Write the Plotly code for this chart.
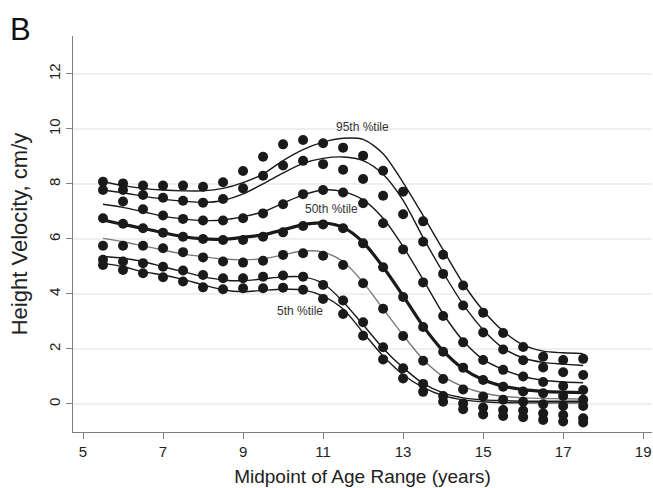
import plotly.graph_objects as go

# Age midpoints (years)
ages = [5.5, 6.0, 6.5, 7.0, 7.5, 8.0, 8.5, 9.0, 9.5, 10.0, 10.5, 11.0, 11.5,
        12.0, 12.5, 13.0, 13.5, 14.0, 14.5, 15.0, 15.5, 16.0, 16.5, 17.0, 17.5]

# Observed percentile points (cm/y)
obs_p95 = [8.08, 8.02, 7.94, 7.94, 7.94, 7.90, 8.06, 8.47, 8.99, 9.44, 9.60, 9.48, 9.32,
           9.03, 8.48, 7.72, 6.64, 5.43, 4.31, 3.32, 2.58, 2.07, 1.72, 1.60, 1.64]
obs_p90 = [7.78, 7.78, 7.60, 7.50, 7.39, 7.32, 7.45, 7.84, 8.30, 8.67, 8.84, 8.72, 8.52,
           8.18, 7.57, 6.90, 5.90, 4.73, 3.58, 2.60, 1.98, 1.59, 1.33, 1.15, 1.05]
obs_p75 = [None, 7.36, 7.08, 6.85, 6.73, 6.67, 6.67, 6.75, 6.93, 7.26, 7.63, 7.78, 7.69,
           7.30, 6.57, 5.62, 4.42, 3.20, 2.24, 1.60, 1.24, 1.00, 0.80, 0.65, 0.51]
obs_p50 = [6.75, 6.55, 6.39, 6.23, 6.08, 6.00, 5.96, 5.96, 6.08, 6.24, 6.47, 6.53, 6.39,
           5.84, 4.97, 3.89, 2.80, 1.90, 1.32, 0.87, 0.63, 0.45, 0.39, 0.29, 0.15]
obs_p25 = [5.75, 5.75, 5.75, 5.66, 5.52, 5.33, 5.18, 5.14, 5.21, 5.42, 5.48, 5.39, 5.05,
           4.39, 3.46, 2.47, 1.57, 0.91, 0.53, 0.27, 0.15, 0.08, -0.01, -0.07, -0.07]
obs_p10 = [5.24, 5.18, 5.12, 4.99, 4.85, 4.69, 4.57, 4.57, 4.63, 4.67, 4.63, 4.33, 3.76,
           2.97, 2.06, 1.30, 0.73, 0.29, 0.02, -0.13, -0.22, -0.24, -0.34, -0.40, -0.52]
obs_p5 = [5.05, 4.87, 4.75, 4.61, 4.45, 4.24, 4.17, 4.21, 4.21, 4.23, 4.15, 3.82, 3.27,
          2.48, 1.62, 0.93, 0.44, 0.08, -0.19, -0.38, -0.44, -0.48, -0.58, -0.64, -0.67]

# Smoothed percentile curves (cm/y)
fit_p95 = [8.08, 7.94, 7.84, 7.78, 7.75, 7.75, 7.84, 8.05, 8.36, 8.85, 9.25, 9.52, 9.66,
           9.62, 9.10, 8.05, 6.85, 5.60, 4.38, 3.40, 2.65, 2.15, 1.92, 1.86, 1.83]
fit_p90 = [7.78, 7.68, 7.56, 7.45, 7.38, 7.33, 7.40, 7.64, 8.00, 8.40, 8.75, 8.93, 8.98,
           8.85, 8.35, 7.40, 6.05, 4.78, 3.62, 2.70, 2.03, 1.67, 1.51, 1.45, 1.40]
fit_p75 = [7.26, 7.15, 6.99, 6.83, 6.73, 6.67, 6.69, 6.81, 6.99, 7.30, 7.60, 7.78, 7.72,
           7.42, 6.75, 5.72, 4.52, 3.28, 2.30, 1.62, 1.25, 1.00, 0.86, 0.80, 0.77]
fit_p50 = [6.69, 6.53, 6.39, 6.23, 6.08, 6.00, 5.99, 6.06, 6.15, 6.33, 6.52, 6.58, 6.42,
           5.88, 4.98, 3.93, 2.83, 1.93, 1.28, 0.88, 0.65, 0.52, 0.46, 0.43, 0.41]
fit_p25 = [6.02, 5.90, 5.75, 5.60, 5.45, 5.36, 5.27, 5.24, 5.28, 5.42, 5.56, 5.52, 5.18,
           4.42, 3.46, 2.50, 1.62, 1.00, 0.63, 0.40, 0.28, 0.22, 0.20, 0.19, 0.18]
fit_p10 = [5.36, 5.30, 5.18, 4.99, 4.81, 4.63, 4.51, 4.48, 4.55, 4.62, 4.62, 4.38, 3.72,
           2.88, 2.02, 1.32, 0.75, 0.40, 0.22, 0.15, 0.12, 0.10, 0.10, 0.10, 0.10]
fit_p5 = [5.12, 4.99, 4.81, 4.69, 4.53, 4.33, 4.15, 4.08, 4.13, 4.17, 4.15, 3.92, 3.45,
          2.60, 1.74, 1.06, 0.60, 0.30, 0.15, 0.08, 0.05, 0.04, 0.04, 0.04, 0.04]

x_ticks = [5, 7, 9, 11, 13, 15, 17, 19]
y_ticks = [0, 2, 4, 6, 8, 10, 12]

curve_labels = ["95th %tile", "50th %tile", "5th %tile"]
label_x = [11.98, 11.2, 10.43]
label_y = [10.07, 7.09, 3.38]

FONT = "Liberation Sans, Arial, Helvetica, sans-serif"
BLACK = "#1a1a1a"

fig = go.Figure()

fits = [
    (fit_p95, BLACK, 1.4),
    (fit_p90, BLACK, 1.4),
    (fit_p75, BLACK, 1.4),
    (fit_p50, BLACK, 3.2),
    (fit_p25, "#7a7a7a", 1.4),
    (fit_p10, BLACK, 1.4),
    (fit_p5, BLACK, 1.4),
]
for ys, col, w in fits:
    fig.add_trace(go.Scatter(
        x=ages, y=ys, mode="lines",
        line=dict(color=col, width=w, shape="spline", smoothing=0.8),
        hoverinfo="skip", showlegend=False))

for ys in [obs_p95, obs_p90, obs_p75, obs_p50, obs_p25, obs_p10, obs_p5]:
    fig.add_trace(go.Scatter(
        x=ages, y=ys, mode="markers",
        marker=dict(color=BLACK, size=10, line=dict(width=0)),
        showlegend=False))

for t, lx, ly in zip(curve_labels, label_x, label_y):
    fig.add_annotation(x=lx, y=ly, text=t, showarrow=False,
                       font=dict(family=FONT, size=12, color="#333333"))

fig.add_annotation(xref="paper", yref="paper", x=-0.113, y=1.065, text="B",
                   showarrow=False, xanchor="left", yanchor="top",
                   font=dict(family=FONT, size=31, color="#111111"))

fig.update_layout(
    width=653, height=488,
    margin=dict(l=73, r=1, t=36, b=56),
    paper_bgcolor="white", plot_bgcolor="white",
    font=dict(family=FONT, color="#222222"),
    xaxis=dict(
        range=[4.75, 19.22], tickvals=x_ticks, ticktext=[str(v) for v in x_ticks],
        showgrid=False, zeroline=False,
        showline=True, linecolor="#7f7f7f", linewidth=1.3,
        ticks="outside", ticklen=6, tickcolor="#7f7f7f", tickwidth=1.2,
        tickfont=dict(size=15, family=FONT, color="#222222"),
        title=dict(text="Midpoint of Age Range (years)", standoff=10,
                   font=dict(size=19, family=FONT, color="#222222")),
    ),
    yaxis=dict(
        range=[-1.02, 13.38], tickvals=y_ticks, ticktext=[str(v) for v in y_ticks],
        tickangle=-90,
        showgrid=True, gridcolor="#efefef", gridwidth=1.5, zeroline=False,
        showline=True, linecolor="#7f7f7f", linewidth=1.3,
        ticks="outside", ticklen=6, tickcolor="#7f7f7f", tickwidth=1.2,
        tickfont=dict(size=15, family=FONT, color="#222222"),
        title=dict(text="Height Velocity, cm/y", standoff=12,
                   font=dict(size=22, family=FONT, color="#222222")),
    ),
)

fig.write_html(
    "out.html",
    config={"displayModeBar": False},
    post_script="document.body.style.margin='0';document.body.style.overflow='hidden';",
)
